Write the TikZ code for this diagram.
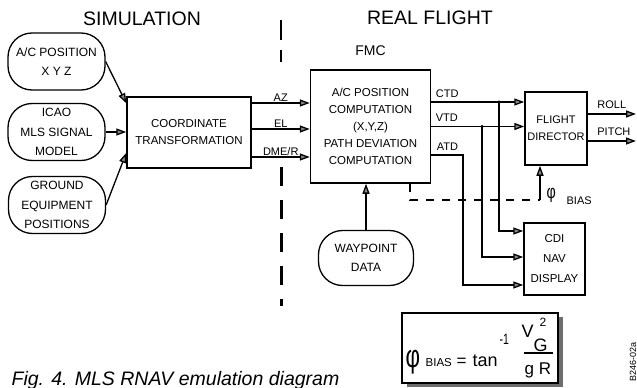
\documentclass[tikz,border=0pt]{standalone}
\usepackage{fontspec}
\setmainfont{Liberation Sans}
\usepackage{graphicx}
\usepackage{tikz}
\usetikzlibrary{arrows.meta,positioning,calc,shadows}
\definecolor{TipGray}{HTML}{8A8A8A}
\definecolor{ShadeGray}{HTML}{6E6E6E}
\newcommand{\pfont}[2]{\fontsize{#1}{#2}\selectfont}
\newcommand{\sourcepill}[4]{%
  \node[draw, line width=1.3pt, rounded corners=24pt, minimum width=97pt,
        minimum height=57pt, align=center, font=\pfont{12}{19.5},#4] (#1) at (#2) {#3};}
\newcommand{\procbox}[5]{%
  \node[draw, line width=1.5pt, minimum width=#3, minimum height=#4,
        align=center, font=\pfont{11.5}{17},#5] (#1) {#2};}
\tikzset{
  lbl/.style={font=\pfont{11}{11}, inner sep=0pt},
  flow/.style={->, line width=1.3pt},
  dashlink/.style={line width=1.3pt, dash pattern=on 8pt off 8pt},
  divider/.style={line width=3pt},
  tapdot/.style={circle, fill, inner sep=0pt, minimum size=3.5pt},
  eqpart/.style={anchor=base west, inner sep=0pt},
}

\begin{document}
\begin{tikzpicture}[x=1pt, y=-1pt, >={Triangle[length=10pt,width=7pt,fill=TipGray]}, line width=1.3pt]
    \useasboundingbox (0,0) rectangle (637,388);
    % headings
    \node[font=\pfont{19.5}{19.5}, anchor=base] (simtitle) at (142,25) {SIMULATION};
    \node[font=\pfont{19.5}{19.5}, anchor=base] (flttitle) at (430,24) {REAL FLIGHT};
    \draw[divider, line width=2.2pt, dash pattern=on 20pt off 10pt] (281,20) -- (281,62);
    \draw[divider, dash pattern=on 19pt off 14pt] (281,167) -- (281,306);

    % simulation side
    \sourcepill{acpos}{56.5,61.5}{A/C POSITION\\X Y Z}{}
    \sourcepill{icao}{56.5,132}{ICAO\\MLS SIGNAL\\MODEL}{}
    \sourcepill{ground}{57,205}{GROUND\\EQUIPMENT\\POSITIONS}{}
    \procbox{coordxf}{COORDINATE\\TRANSFORMATION}{124pt}{71pt}{at={(189,132.5)}}

    % real flight side
    \procbox{fmc}{A/C POSITION\\COMPUTATION\\(X,Y,Z)\\PATH DEVIATION\\COMPUTATION}{120pt}{113pt}{at={(370.5,126.5)}}
    \node[font=\pfont{14}{14}, above=9.5pt of fmc] (fmclbl) {FMC};
    \procbox{fltdir}{FLIGHT\\DIRECTOR}{62pt}{73pt}{at={(556,128.5)}, font=\pfont{11}{17}, inner sep=1.5pt}
    \procbox{cdinav}{CDI\\NAV\\DISPLAY}{61pt}{72pt}{at={(554.5,259)}, font=\pfont{11.5}{20}}
    \sourcepill{waypt}{366,258}{WAYPOINT\\DATA}{minimum width=95pt, minimum height=55pt}

    \coordinate (ctdtap) at (499,102);
    \coordinate (vtdtap) at (482,126.5);
    \coordinate (atdbend) at (463,155);
    \coordinate (rollend) at (636,114);
    \coordinate (pitchend) at (636,141);
    \coordinate (biastap) at (540,200);
    \coordinate (dashcorner) at (410,200);

    \draw[flow] (acpos.east) -- (coordxf.155);
    \draw[flow] (icao.east) -- (icao.east -| coordxf.west);
    \draw[flow] (ground.east) -- (coordxf.198);

    \draw[flow] ([yshift=29.5pt]coordxf.east) coordinate (azout) -- (azout -| fmc.west)
      node[lbl, midway, anchor=base, yshift=1.5pt] (azlbl) {AZ};
    \draw[flow] ([yshift=3.5pt]coordxf.east) coordinate (elout) -- (elout -| fmc.west)
      node[lbl, midway, anchor=base, yshift=1.5pt] (ellbl) {EL};
    \draw[flow] ([yshift=-24.5pt]coordxf.east) coordinate (dmeout) -- (dmeout -| fmc.west)
      node[lbl, midway, anchor=base, yshift=1.5pt] (dmelbl) {DME/R};

    \draw[flow] ([yshift=24.5pt]fmc.east) coordinate (ctdout)
      node[lbl, anchor=base west, xshift=4pt, yshift=5pt] (ctdlbl) {CTD} -- (ctdout -| fltdir.west);
    \draw[flow] (fmc.east)
      node[lbl, anchor=base west, xshift=4pt, yshift=5pt] (vtdlbl) {VTD} -- (fmc.east -| fltdir.west);
    \draw[flow] ([yshift=-28.5pt]fmc.east)
      node[lbl, anchor=base west, xshift=5pt, yshift=5pt] (atdlbl) {ATD} -- (atdbend) |- ([yshift=-26pt]cdinav.west);
    \draw[flow] (ctdtap) |- ([yshift=28pt]cdinav.west);
    \draw[flow] (vtdtap) |- ([yshift=2pt]cdinav.west);
    \node[tapdot] (ctddot) at (ctdtap) {};
    \node[tapdot] (vtddot) at (vtdtap) {};

    \draw[flow] (fltdir.east |- rollend)
      node[lbl, anchor=base west, xshift=9pt, yshift=6pt] (rolllbl) {ROLL} -- (rollend);
    \draw[flow] (fltdir.east |- pitchend)
      node[lbl, anchor=base west, xshift=9pt, yshift=6pt] (pitchlbl) {PITCH} -- (pitchend);

    \draw[flow] (waypt.north) -- (waypt.north |- fmc.south);

    % bank angle bias
    \draw[dashlink] (dashcorner |- fmc.south) -- (dashcorner) -- (biastap);
    \draw[flow] (biastap) -- (biastap |- fltdir.south);
    \node[eqpart, font=\pfont{19}{19}] (phisym) at (546,198) {\scalebox{0.75}[1]{φ}};
    \node[lbl, anchor=base west] (biaslbl) at (566,204) {BIAS};

    % formula
    \node[draw, line width=1.5pt, minimum width=156pt, minimum height=70pt, fill=white,
          drop shadow={shadow xshift=5pt, shadow yshift=-4pt, fill=ShadeGray, opacity=1}] (biasbox) at (480,348) {};
    \node[eqpart, font=\pfont{32}{32}] (fphi) at (405,367) {\scalebox{0.7}[1]{φ}};
    \node[eqpart, font=\pfont{11.5}{11.5}] (fbias) at (425,366) {BIAS};
    \node[eqpart, font=\pfont{17}{17}] (feq) at (456,366) {=};
    \node[eqpart, font=\pfont{18}{18}] (ftan) at (472,366) {tan};
    \node[eqpart, font=\pfont{15}{15}] (fexp) at (499,344) {\scalebox{0.7}[1]{-1}};
    \node[eqpart, font=\pfont{18}{18}] (fvel) at (521,337) {V};
    \node[eqpart, font=\pfont{18}{18}] (fgnd) at (533,351) {G};
    \node[eqpart, font=\pfont{12}{12}] (fsq) at (539,326) {2};
    \draw[line width=1.3pt] (524,353) -- (553,353);
    \node[eqpart, font=\pfont{17}{17}] (fgr) at (524,374) {g R};

    \node[font=\pfont{19.5}{19.5}\itshape, anchor=base west, inner sep=0pt] (figcap) at (11,385) {Fig. 4. MLS RNAV emulation diagram};
    \node[font=\pfont{9}{9}, rotate=90, inner sep=0pt] (figtag) at (633,362) {B246-02a};
  \end{tikzpicture}
\end{document}
